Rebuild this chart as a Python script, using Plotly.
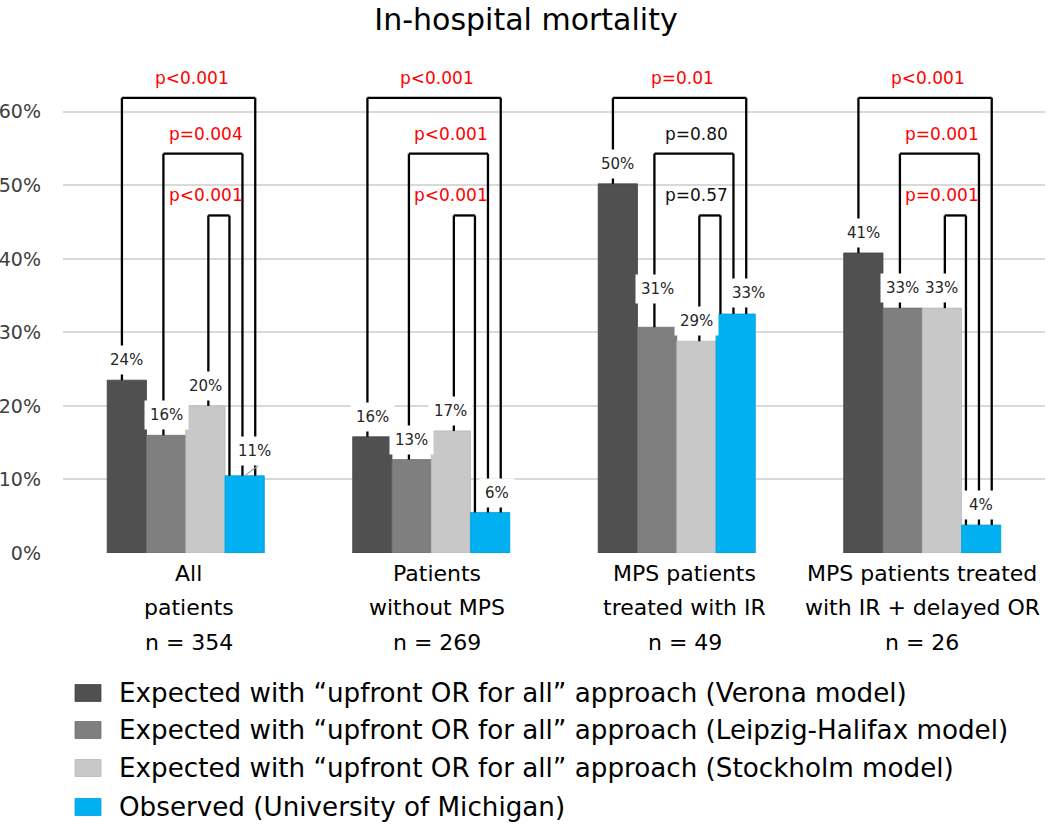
import plotly.graph_objects as go

# ---------------- data ----------------
categories = ["All patients", "Patients without MPS",
              "MPS patients treated with IR",
              "MPS patients treated with IR + delayed OR"]
category_lines = [["All", "patients", "n = 354"],
                  ["Patients", "without MPS", "n = 269"],
                  ["MPS patients", "treated with IR", "n = 49"],
                  ["MPS patients treated", "with IR + delayed OR", "n = 26"]]
series_names = [
    "Expected with \u201cupfront OR for all\u201d approach (Verona model)",
    "Expected with \u201cupfront OR for all\u201d approach (Leipzig-Halifax model)",
    "Expected with \u201cupfront OR for all\u201d approach (Stockholm model)",
    "Observed (University of Michigan)",
]
verona = [23.5, 15.8, 50.2, 40.8]
leipzig = [16.0, 12.7, 30.7, 33.3]
stockholm = [20.0, 16.6, 28.8, 33.3]
observed = [10.5, 5.5, 32.5, 3.8]
# p-values per category: (Verona vs obs, Leipzig vs obs, Stockholm vs obs)
p_values = [["p<0.001", "p=0.004", "p<0.001"],
            ["p<0.001", "p<0.001", "p<0.001"],
            ["p=0.01", "p=0.80", "p=0.57"],
            ["p<0.001", "p=0.001", "p=0.001"]]
y_ticks = [0, 10, 20, 30, 40, 50, 60]

# ---------------- style ----------------
FONT = "DejaVu Sans"
colors = ["#505050", "#7f7f7f", "#c8c8c8", "#00b0f0"]
edge_colors = ["#444444", "#6f6f6f", "#b8b8b8", "#00a0e0"]
BARGAP = 0.36
bracket_levels = [61.9, 54.3, 45.9]          # outer, middle, inner
left_leg_adj = [-0.02, -0.011, 0.012]         # per left series
right_leg_adj = [0.043, -0.009, -0.062]       # per bracket level
label_shift = {(3, 0): (10, 25), (3, 1): (7, 20), (3, 2): (13, 21), (1, 2): (0, 38)}
cat_label_xshift = [3, 6, 8, 0]

W, H = 1050, 826
ML, MR, MT, MB = 63, 5, 75, 273
PW, PH = W - ML - MR, H - MT - MB


def px_x(px):          # page pixel -> paper x
    return (px - ML) / PW


def px_y(py):          # page pixel -> paper y
    return (H - MB - py) / PH


series = [verona, leipzig, stockholm, observed]
n_series = len(series)
bar_w = (1 - BARGAP) / n_series
offsets = [(s - (n_series - 1) / 2) * bar_w for s in range(n_series)]

fig = go.Figure()
for s, (name, vals) in enumerate(zip(series_names, series)):
    fig.add_trace(go.Bar(
        x=categories, y=vals, name=name,
        marker=dict(color=colors[s], line=dict(color=edge_colors[s], width=0.8)),
        hoverinfo="x+y", showlegend=False,
    ))

shapes = []
annotations = []

# brackets + p-values
for g in range(len(categories)):
    for k in range(3):
        ls = k
        xl = g + offsets[ls] + left_leg_adj[ls]
        xr = g + offsets[3] + right_leg_adj[k]
        top = bracket_levels[k]
        line = dict(color="black", width=2.3)
        shapes.append(dict(type="line", xref="x", yref="y", x0=xl, x1=xl,
                           y0=series[ls][g], y1=top, line=line))
        shapes.append(dict(type="line", xref="x", yref="y", x0=xl, x1=xr,
                           y0=top, y1=top, line=line))
        shapes.append(dict(type="line", xref="x", yref="y", x0=xr, x1=xr,
                           y0=series[3][g], y1=top, line=line))
        p = p_values[g][k]
        pv = float(p[2:])
        sig = (p[1] == "<") or pv < 0.05
        if k == 2:
            cx = (g + offsets[1] + left_leg_adj[1] + g + offsets[3] + right_leg_adj[1]) / 2
        else:
            cx = (xl + xr) / 2
        annotations.append(dict(x=cx, y=top, xref="x", yref="y", text=p,
                                showarrow=False, yanchor="middle", yshift=20, xshift=3,
                                font=dict(family=FONT, size=17,
                                          color="#ff0000" if sig else "#111111")))

# leader line for shifted label
shapes.append(dict(type="line", xref="x", yref="y",
                   x0=0 + offsets[3], x1=0 + offsets[3] + 0.055,
                   y0=observed[0], y1=observed[0] + 1.4,
                   line=dict(color="#a6a6a6", width=1.2)))

# data labels
for s in range(n_series):
    for g in range(len(categories)):
        v = series[s][g]
        dx, dy = label_shift.get((s, g), (0, 20))
        annotations.append(dict(
            x=g + offsets[s], y=v, xref="x", yref="y",
            text=f"{int(v + 0.5)}%", showarrow=False,
            yanchor="middle", yshift=dy, xshift=dx,
            bgcolor="white", borderpad=5,
            font=dict(family=FONT, size=15, color="#262626")))

# category labels
for g, lines in enumerate(category_lines):
    for i, t in enumerate(lines):
        annotations.append(dict(
            x=g, y=0, xref="x", yref="paper", text=t, showarrow=False,
            yanchor="middle", yshift=-20 - 34.5 * i, xshift=cat_label_xshift[g],
            font=dict(family=FONT, size=22, color="#000000")))

# legend (drawn manually to match swatch geometry)
legend_rows = [693, 730, 768, 807]
for s, name in enumerate(series_names):
    ry = legend_rows[s]
    shapes.append(dict(type="rect", xref="paper", yref="paper",
                       x0=px_x(75), x1=px_x(101), y0=px_y(ry + 8.5), y1=px_y(ry - 8.5),
                       fillcolor=colors[s], line=dict(color=edge_colors[s], width=0.8)))
    annotations.append(dict(x=px_x(117), y=px_y(ry), xref="paper", yref="paper",
                            text=name, showarrow=False, xanchor="left", yanchor="middle",
                            font=dict(family=FONT, size=26.2, color="#000000")))

fig.update_layout(
    width=W, height=H,
    margin=dict(l=ML, r=MR, t=MT, b=MB),
    paper_bgcolor="white", plot_bgcolor="white",
    barmode="group", bargap=BARGAP, bargroupgap=0,
    title=dict(text="In-hospital mortality", x=526 / W, xref="container",
               xanchor="center",
               y=1 - 19 / H, yref="container", yanchor="middle",
               font=dict(family=FONT, size=30, color="#000000")),
    xaxis=dict(type="category", showticklabels=False, showgrid=False,
               zeroline=False, showline=False, range=[-0.5, 3.5], automargin=False),
    yaxis=dict(range=[0, 65], tickvals=y_ticks,
               ticktext=[f"{t}%" for t in y_ticks], automargin=False,
               showgrid=True, gridcolor="#d9d9d9", gridwidth=1.5,
               zeroline=False, showline=False, ticks="", ticklabelstandoff=21,
               tickfont=dict(family=FONT, size=19, color="#404040")),
    shapes=shapes, annotations=annotations,
    showlegend=False,
)

fig.write_html("out.html",
               config={"displayModeBar": False},
               post_script="document.body.style.margin='0px';"
                           "document.body.style.overflow='hidden';")
